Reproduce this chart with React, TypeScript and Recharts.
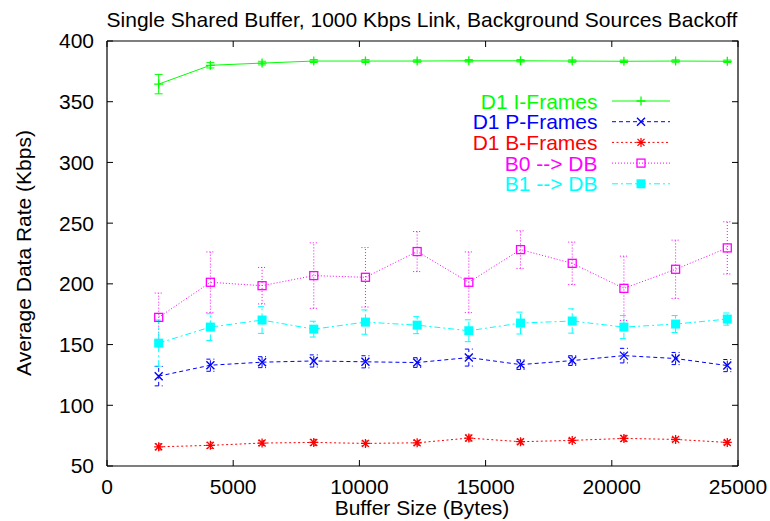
import React from "react";
import { ErrorBar, Line, LineChart, XAxis, YAxis } from "recharts";

const FONT = '"Liberation Sans", Arial, Helvetica, sans-serif';
const INK = "#000000";
const GREEN = "#00ff00";
const BLUE = "#0000ff";
const RED = "#ff0000";
const MAGENTA = "#ff00ff";
const CYAN = "#00ffff";

// buffer sizes (bytes) on the x axis
const bufferSizes = [2048, 4096, 6144, 8192, 10240, 12288, 14336, 16384, 18432, 20480, 22528, 24576];

// average data rate (Kbps) and half-width of the error bar for each series
const iFrames = [364.5, 380, 381.8, 383.5, 383.5, 383.5, 383.7, 383.7, 383.5, 383.3, 383.5, 383.3];
const iErr = [8, 2.2, 1.5, 1.2, 1.2, 1, 1, 1, 1, 1, 1, 1];
const pFrames = [124, 133, 135.5, 136.5, 135.8, 135.2, 139.3, 133.5, 136.8, 140.9, 138.5, 132.7];
const pErr = [8, 5, 4.5, 5, 5, 4, 7, 4, 4, 6, 5, 5];
const bFrames = [65.8, 67, 68.9, 69.4, 68.6, 69.1, 73, 70, 71.1, 72.7, 71.9, 69.4];
const bErr = [2.5, 2.5, 2, 2.5, 2, 2, 2.5, 2, 1.5, 2.5, 1.5, 1.5];
const b0ToDb = [172.4, 201.3, 198.5, 206.8, 205.4, 226.6, 201.3, 228.2, 216.9, 196.3, 212, 229.6];
const b0Err = [20, 25, 15, 27, 24.5, 16.5, 25, 15.5, 17.5, 26.5, 24, 21.5];
const b1ToDb = [151.2, 164.4, 170.2, 162.7, 168.5, 166, 161.4, 167.7, 169.4, 164.4, 166.9, 171];
const b1Err = [19, 11, 11, 6.5, 10, 7, 9, 9, 10, 9.5, 7, 5];

const X_DOMAIN = [0, 25000];
const Y_DOMAIN = [50, 400];
const xTicks = [0, 5000, 10000, 15000, 20000, 25000];
const yTicks = [50, 100, 150, 200, 250, 300, 350, 400];

const data = bufferSizes.map((x, i) => ({
  x,
  iFrames: iFrames[i],
  iErr: iErr[i],
  pFrames: pFrames[i],
  pErr: pErr[i],
  bFrames: bFrames[i],
  bErr: bErr[i],
  b0: b0ToDb[i],
  b0Err: b0Err[i],
  b1: b1ToDb[i],
  b1Err: b1Err[i],
}));

// plot box edges; the chart margins below are derived from these
const W = 770;
const H = 521;
const PLOT_LEFT = 107;
const PLOT_RIGHT = 738;
const PLOT_TOP = 41;
const PLOT_BOTTOM = 466;
const TICK_LEN = 6;

type MarkProps = { cx?: number; cy?: number; color: string };

function PlusMark({ cx = 0, cy = 0, color }: MarkProps) {
  return (
    <path
      d={`M${cx - 4.5},${cy}H${cx + 4.5}M${cx},${cy - 4.5}V${cy + 4.5}`}
      stroke={color}
      strokeWidth={1.3}
      fill="none"
    />
  );
}

function CrossMark({ cx = 0, cy = 0, color }: MarkProps) {
  const r = 4;
  return (
    <path
      d={`M${cx - r},${cy - r}L${cx + r},${cy + r}M${cx - r},${cy + r}L${cx + r},${cy - r}`}
      stroke={color}
      strokeWidth={1.4}
      fill="none"
    />
  );
}

function StarMark({ cx = 0, cy = 0, color }: MarkProps) {
  const r = 3.5;
  return (
    <path
      d={`M${cx - r},${cy - r}L${cx + r},${cy + r}M${cx - r},${cy + r}L${cx + r},${cy - r}M${cx - 4.5},${cy}H${cx + 4.5}M${cx},${cy - 4.5}V${cy + 4.5}`}
      stroke={color}
      strokeWidth={1.3}
      fill="none"
    />
  );
}

function BoxMark({ cx = 0, cy = 0, color }: MarkProps) {
  return <rect x={cx - 4} y={cy - 4} width={8} height={8} stroke={color} strokeWidth={1.3} fill="none" />;
}

function FilledBoxMark({ cx = 0, cy = 0, color }: MarkProps) {
  return <rect x={cx - 4.5} y={cy - 4.5} width={9} height={9} fill={color} stroke="none" />;
}

const SERIES = [
  { key: "iFrames", err: "iErr", name: "D1 I-Frames", color: GREEN, dash: undefined, Mark: PlusMark },
  { key: "pFrames", err: "pErr", name: "D1 P-Frames", color: BLUE, dash: "4 3", Mark: CrossMark },
  { key: "bFrames", err: "bErr", name: "D1 B-Frames", color: RED, dash: "2 2.5", Mark: StarMark },
  { key: "b0", err: "b0Err", name: "B0 --> DB", color: MAGENTA, dash: "1 2", Mark: BoxMark },
  { key: "b1", err: "b1Err", name: "B1 --> DB", color: CYAN, dash: "6 3 2 3", Mark: FilledBoxMark },
];

// gnuplot-style key: right-aligned label, then a sample of the line and marker
function KeyBox() {
  return (
    <g transform="translate(440,88)">
      {SERIES.map((s, i) => {
        const y = 13 + i * 20.7;
        return (
          <g key={s.key}>
            <text x={157.5} y={y + 7.5} textAnchor="end" fill={s.color} fontSize={21} fontFamily={FONT}>
              {s.name}
            </text>
            <line x1={172} x2={230} y1={y} y2={y} stroke={s.color} strokeWidth={1} strokeDasharray={s.dash} />
            <s.Mark cx={201} cy={y} color={s.color} />
          </g>
        );
      })}
    </g>
  );
}

// top and right border with the mirrored inward ticks (gnuplot "mirror")
function MirrorFrame() {
  const sx = (v: number) =>
    PLOT_LEFT + ((v - X_DOMAIN[0]) / (X_DOMAIN[1] - X_DOMAIN[0])) * (PLOT_RIGHT - PLOT_LEFT);
  const sy = (v: number) =>
    PLOT_BOTTOM - ((v - Y_DOMAIN[0]) / (Y_DOMAIN[1] - Y_DOMAIN[0])) * (PLOT_BOTTOM - PLOT_TOP);
  return (
    <g stroke={INK} fill="none">
      <path d={`M${PLOT_LEFT},${PLOT_TOP}H${PLOT_RIGHT}V${PLOT_BOTTOM}`} strokeWidth={1.2} />
      {xTicks.map((t) => (
        <line key={`t${t}`} x1={sx(t)} x2={sx(t)} y1={PLOT_TOP} y2={PLOT_TOP + TICK_LEN} strokeWidth={1} />
      ))}
      {yTicks.map((t) => (
        <line key={`r${t}`} x1={PLOT_RIGHT - TICK_LEN} x2={PLOT_RIGHT} y1={sy(t)} y2={sy(t)} strokeWidth={1} />
      ))}
    </g>
  );
}

const tickStyle = { fill: INK, fontSize: 21, fontFamily: FONT };
const axisLine = { stroke: INK, strokeWidth: 1.2 };
const tickLine = { stroke: INK, strokeWidth: 1 };

export default function App() {
  return (
    <div style={{ position: "absolute", left: 0, top: 0, width: W, height: H, background: "#fff" }}>
      <LineChart
        width={W}
        height={H}
        data={data}
        margin={{ top: PLOT_TOP, right: W - PLOT_RIGHT, bottom: 0, left: 0 }}
      >
        <XAxis
          dataKey="x"
          type="number"
          domain={X_DOMAIN}
          ticks={xTicks}
          height={H - PLOT_BOTTOM}
          tick={tickStyle}
          tickSize={-TICK_LEN}
          tickMargin={19}
          axisLine={axisLine}
          tickLine={tickLine}
        />
        <YAxis
          type="number"
          domain={Y_DOMAIN}
          ticks={yTicks}
          width={PLOT_LEFT}
          tick={tickStyle}
          tickSize={-TICK_LEN}
          tickMargin={19}
          axisLine={axisLine}
          tickLine={tickLine}
        />
        {SERIES.map((s) => (
          <Line
            key={s.key}
            type="linear"
            dataKey={s.key}
            name={s.name}
            stroke={s.color}
            strokeWidth={1}
            strokeDasharray={s.dash}
            dot={(p: any) => <s.Mark key={`${s.key}-${p.index}`} cx={p.cx} cy={p.cy} color={s.color} />}
            activeDot={false}
            isAnimationActive={false}
          >
            <ErrorBar
              dataKey={s.err}
              direction="y"
              width={4}
              stroke={s.color}
              strokeWidth={1}
              strokeDasharray={s.dash}
              isAnimationActive={false}
            />
          </Line>
        ))}
      </LineChart>
      <svg width={W} height={H} style={{ position: "absolute", left: 0, top: 0, pointerEvents: "none" }}>
        <MirrorFrame />
        <text x={422} y={27} textAnchor="middle" fontSize={21} fontFamily={FONT} fill={INK}>
          Single Shared Buffer, 1000 Kbps Link, Background Sources Backoff
        </text>
        <text x={422} y={515} textAnchor="middle" fontSize={21} fontFamily={FONT} fill={INK}>
          Buffer Size (Bytes)
        </text>
        <text
          transform="translate(31,253) rotate(-90)"
          textAnchor="middle"
          fontSize={21}
          fontFamily={FONT}
          fill={INK}
        >
          Average Data Rate (Kbps)
        </text>
        <KeyBox />
      </svg>
    </div>
  );
}
